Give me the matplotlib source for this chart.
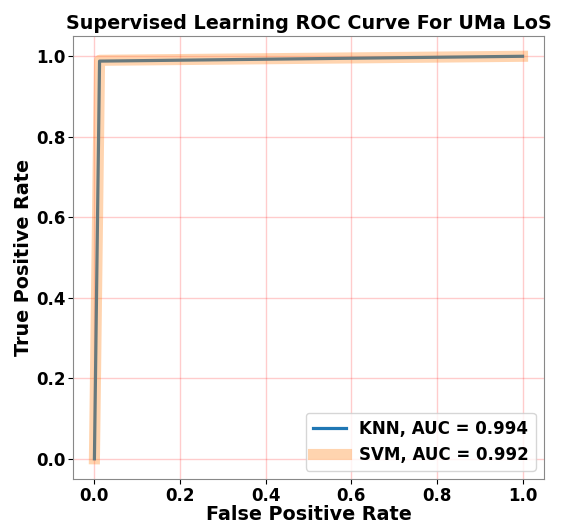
import matplotlib
matplotlib.use("Agg")
import matplotlib.pyplot as plt

# ROC points
knn_fpr = [0.0, 0.012, 1.0]
knn_tpr = [0.0, 0.988, 1.0]
svm_fpr = [0.0, 0.012, 1.0]
svm_tpr = [0.0, 0.99, 1.0]
knn_auc = 0.994
svm_auc = 0.992

plt.rcParams['font.weight'] = 'bold'
plt.rcParams['axes.labelweight'] = 'bold'
plt.rcParams['axes.titleweight'] = 'bold'

fig = plt.figure(figsize=(5.66, 5.24), dpi=100)
ax = fig.add_axes([0.129, 0.086, 0.832, 0.845])

ax.plot(knn_fpr, knn_tpr, color='#1f77b4', lw=2.3, label=f'KNN, AUC = {knn_auc}')
ax.plot(svm_fpr, svm_tpr, color='#ff7f0e', lw=8, alpha=0.33, label=f'SVM, AUC = {svm_auc}')

ax.set_title('Supervised Learning ROC Curve For UMa LoS', fontsize=13.8, pad=5)
ax.set_xlabel('False Positive Rate', fontsize=13.8, labelpad=0)
ax.set_ylabel('True Positive Rate', fontsize=13.8, labelpad=2)
ax.tick_params(labelsize=12, pad=2)
ax.grid(True, color='red', alpha=0.2, lw=1)
for s in ax.spines.values():
    s.set_color('#888888')
ax.legend(loc='lower right', fontsize=12)

fig.savefig('out.png')
